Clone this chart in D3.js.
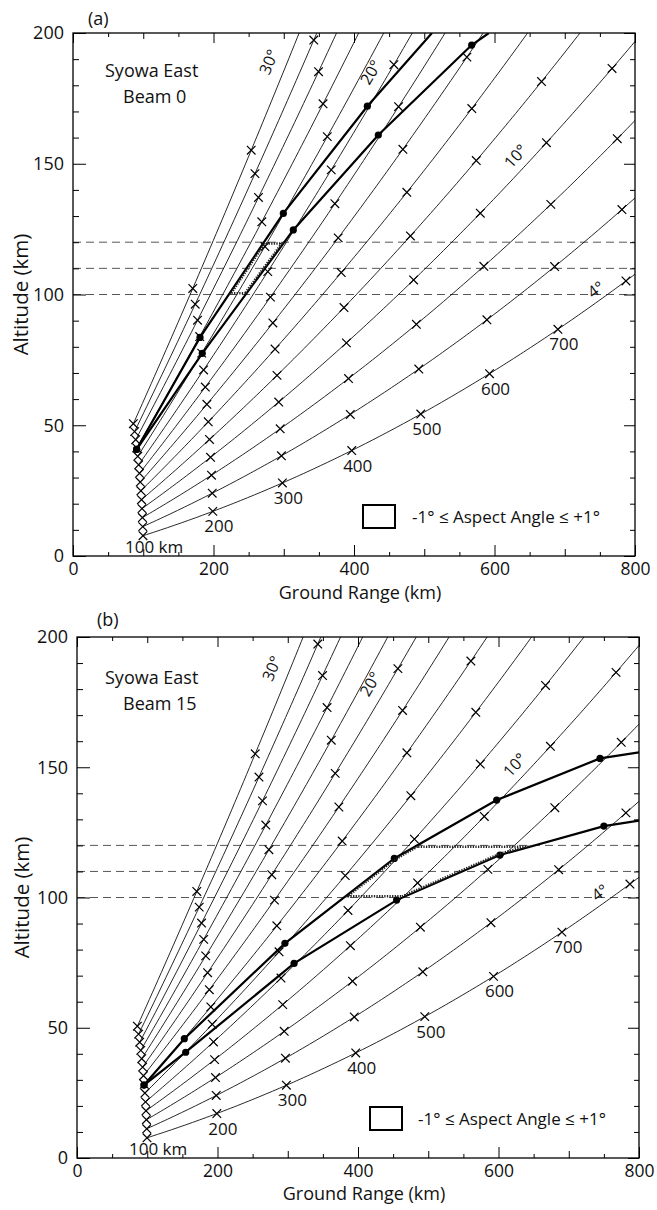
<!DOCTYPE html>
<html><head><meta charset="utf-8">
<script src="https://cdn.jsdelivr.net/npm/d3@7"></script>
<style>
body{margin:0;background:#fff}
svg{display:block}
text{font-family:"Open Sans",sans-serif;fill:#111}
</style>
</head><body><svg id="c" width="657" height="1210"></svg>
<script>
// ---------------- data ----------------
const elevations=[4,6,8,10,12,14,16,18,20,22,24,26,28,30];      // ray elevation angles (deg)
const markRanges=[100,200,300,400,500,600,700,800];             // slant-range marks (km)
const rangeLabelRanges=[100,200,300,400,500,600,700];
const rangeLabelTexts=["100 km","200","300","400","500","600","700"];
const angleLabelElevations=[30,20,10,4];
const angleLabelTexts=["30°","20°","10°","4°"];
const layerAltitudes=[100,110,120];
const xTickValues=[0,200,400,600,800];
const yTickValues=[0,50,100,150,200];
// aspect-angle loci [ground range km, altitude km]
const beam0Upper=[[90.6,40.8],[180.8,83.6],[299.4,131],[419,172],[511,200]];
const beam0Lower=[[90.6,40.8],[184,77.5],[313.6,124.7],[434.6,161],[567.5,195.4],[592,200]];
const beam15Upper=[[95.4,28],[152.8,45.8],[296,82.4],[451.7,115],[597.4,137.4],[744.5,153.4],[800,155.7]];
const beam15Lower=[[95.4,28],[154.7,40.6],[309,74.7],[455,99],[602,116.3],[750,127.4],[800,129.5]];

// ---------------- layout ----------------
const panels=[
 {tag:"(a)",beam:"Beam 0",upper:beam0Upper,lower:beam0Lower,x0:73,x1:635,y0:33,y1:556,tagX:88,tagY:25,
  stY:77,bmY:103,legX:363,legY:505,legTX:412,legTY:523,labAlt:[189,185,153,102],xtY:599,ytX:28},
 {tag:"(b)",beam:"Beam 15",upper:beam15Upper,lower:beam15Lower,x0:77,x1:639,y0:637,y1:1158,tagX:97,tagY:626,
  stY:684,bmY:710,legX:370,legY:1107,legTX:418,legTY:1125,labAlt:[188,182,151,102],xtY:1200,ytX:29}
];
const RE=6370;
const rad=d=>d*Math.PI/180;
function rayPoint(r,e){
  const s=Math.sin(rad(e)),c=Math.cos(rad(e));
  const g=RE*Math.atan(r*c/(RE+r*s));
  const h=Math.sqrt(RE*RE+r*r+2*RE*r*s)-RE;
  return [g,h];
}
function crossAt(poly,h){
  for(let i=0;i<poly.length-1;i++){
    const a=poly[i],b=poly[i+1];
    if((a[1]-h)*(b[1]-h)<=0 && a[1]!==b[1]){
      const t=(h-a[1])/(b[1]-a[1]);
      return {i,p:[a[0]+t*(b[0]-a[0]),h]};
    }
  }
  return null;
}
const svg=d3.select("#c");

panels.forEach((P,pi)=>{
  const x=d3.scaleLinear().domain([0,800]).range([P.x0,P.x1]);
  const y=d3.scaleLinear().domain([0,200]).range([P.y1,P.y0]);
  const g=svg.append("g");
  const clipId="clip"+pi;
  svg.append("defs").append("clipPath").attr("id",clipId)
    .append("rect").attr("x",P.x0).attr("y",P.y0).attr("width",P.x1-P.x0).attr("height",P.y1-P.y0);

  // layer lines
  g.selectAll(".layer").data(layerAltitudes).join("line")
    .attr("x1",P.x0).attr("x2",P.x1).attr("y1",d=>y(d)).attr("y2",d=>y(d))
    .attr("stroke","#444").attr("stroke-width",0.9).attr("stroke-dasharray","8,5");

  const plot=g.append("g").attr("clip-path",`url(#${clipId})`);
  const line=d3.line().x(d=>x(d[0])).y(d=>y(d[1]));

  // rays
  elevations.forEach(e=>{
    const pts=d3.range(100,1001,5).map(r=>rayPoint(r,e));
    plot.append("path").attr("d",line(pts)).attr("fill","none")
      .attr("stroke","#000").attr("stroke-width",0.85);
  });
  // range marks
  elevations.forEach(e=>{
    markRanges.forEach(r=>{
      const p=rayPoint(r,e);
      if(p[0]>800||p[1]>200) return;
      const cx=x(p[0]),cy=y(p[1]),s=4.3;
      plot.append("path").attr("d",`M${cx-s},${cy-s}L${cx+s},${cy+s}M${cx-s},${cy+s}L${cx+s},${cy-s}`)
        .attr("stroke","#000").attr("stroke-width",1.2).attr("fill","none");
    });
  });

  // aspect angle region (100-120 km)
  const lo=layerAltitudes[0],hi=layerAltitudes[layerAltitudes.length-1];
  const uA=crossAt(P.upper,lo),uB=crossAt(P.upper,hi),lA=crossAt(P.lower,lo),lB=crossAt(P.lower,hi);
  const poly=[uA.p];
  for(let i=uA.i+1;i<=uB.i;i++) poly.push(P.upper[i]);
  poly.push(uB.p,lB.p);
  for(let i=lB.i;i>lA.i;i--) poly.push(P.lower[i]);
  poly.push(lA.p);
  const hid="hatch"+pi;
  svg.append("defs").append("clipPath").attr("id",hid)
    .append("path").attr("d",line(poly)+"Z");
  g.append("path").attr("d",line(poly)+"Z").attr("clip-path",`url(#${hid})`)
    .attr("fill","none").attr("stroke","#222").attr("stroke-width",5).attr("stroke-dasharray","1.3,1.3");

  // aspect loci
  [P.upper,P.lower].forEach(arr=>{
    plot.append("path").attr("d",line(arr)).attr("fill","none")
      .attr("stroke","#000").attr("stroke-width",2.2);
    plot.selectAll(null).data(arr.slice(0,-1)).join("circle")
      .attr("cx",d=>x(d[0])).attr("cy",d=>y(d[1])).attr("r",3.6).attr("fill","#000");
  });

  // range labels on lowest ray
  rangeLabelRanges.forEach((r,i)=>{
    const p=rayPoint(r,elevations[0]);
    const cx=x(p[0]),cy=y(p[1]);
    const t=g.append("text").text(rangeLabelTexts[i]).attr("font-size",17);
    if(i===0) t.attr("x",cx-18).attr("y",cy+17);
    else t.attr("x",cx+6).attr("y",cy+21).attr("text-anchor","middle");
  });

  // angle labels
  angleLabelElevations.forEach((e,i)=>{
    let a=100,b=1500;
    for(let k=0;k<50;k++){const m=(a+b)/2; if(rayPoint(m,e)[1]<P.labAlt[i]) a=m; else b=m;}
    const p=rayPoint(a,e),q=rayPoint(a+5,e);
    const ang=Math.atan2(y(q[1])-y(p[1]),x(q[0])-x(p[0]))*180/Math.PI;
    const cx=x(p[0])-19,cy=y(p[1]);
    g.append("text").text(angleLabelTexts[i]).attr("font-size",16)
      .attr("text-anchor","middle").attr("dominant-baseline","central")
      .attr("transform",`translate(${cx},${cy}) rotate(${ang})`);
  });

  // axes
  const mk=(ax)=>ax.tickSizeOuter(0);
  const bottom=(vals,len,lab)=>{
    const a=g.append("g").attr("transform",`translate(0,${P.y1})`)
      .call(mk(d3.axisBottom(x).tickValues(vals).tickSize(-len).tickPadding(6.5).tickFormat(lab?d3.format("d"):"")));
    a.select(".domain").remove();
    a.selectAll("line").attr("stroke","#000").attr("stroke-width",1);
    a.selectAll("text").attr("font-size",17.5).attr("fill","#111").attr("font-family","Open Sans");
  };
  bottom(d3.range(50,800,100),4,false);
  bottom(d3.range(100,800,200),7,false);
  bottom(xTickValues,11,true);
  const top=(vals,len)=>{
    const a=g.append("g").attr("transform",`translate(0,${P.y0})`)
      .call(mk(d3.axisTop(x).tickValues(vals).tickSize(-len).tickFormat("")));
    a.select(".domain").remove();
    a.selectAll("line").attr("stroke","#000");
  };
  top(d3.range(50,800,100),4); top(d3.range(100,800,200),6); top(xTickValues,10);
  const left=(vals,len,lab)=>{
    const a=g.append("g").attr("transform",`translate(${P.x0},0)`)
      .call(mk(d3.axisLeft(y).tickValues(vals).tickSize(-len).tickPadding(9).tickFormat(lab?d3.format("d"):"")));
    a.select(".domain").remove();
    a.selectAll("line").attr("stroke","#000");
    a.selectAll("text").attr("font-size",18).attr("fill","#111").attr("font-family","Open Sans");
  };
  left(d3.range(10,200,10).filter(v=>v%50),6,false);
  left(yTickValues,13,true);
  const right=(vals,len)=>{
    const a=g.append("g").attr("transform",`translate(${P.x1},0)`)
      .call(mk(d3.axisRight(y).tickValues(vals).tickSize(-len).tickFormat("")));
    a.select(".domain").remove();
    a.selectAll("line").attr("stroke","#000");
  };
  right(d3.range(10,200,10).filter(v=>v%50),5); right(yTickValues,11);

  // frame
  g.append("rect").attr("x",P.x0).attr("y",P.y0).attr("width",P.x1-P.x0).attr("height",P.y1-P.y0)
    .attr("fill","none").attr("stroke","#000").attr("stroke-width",1.3);

  // titles
  g.append("text").text("Ground Range (km)").attr("x",(P.x0+P.x1)/2+6).attr("y",P.xtY)
    .attr("text-anchor","middle").attr("font-size",18);
  g.append("text").text("Altitude (km)").attr("text-anchor","middle").attr("font-size",20.5)
    .attr("transform",`translate(${P.ytX},${(P.y0+P.y1)/2}) rotate(-90)`);
  g.append("text").text(P.tag).attr("x",P.tagX).attr("y",P.tagY).attr("font-size",18);
  g.append("text").text("Syowa East").attr("x",105).attr("y",P.stY).attr("font-size",18);
  g.append("text").text(P.beam).attr("x",123).attr("y",P.bmY).attr("font-size",18);

  // legend
  g.append("rect").attr("x",P.legX).attr("y",P.legY).attr("width",32).attr("height",23)
    .attr("fill","#fff").attr("stroke","#000").attr("stroke-width",2);
  g.append("text").text("-1° ≤ Aspect Angle ≤ +1°").attr("x",P.legTX).attr("y",P.legTY).attr("font-size",17);
});
</script></body></html>
